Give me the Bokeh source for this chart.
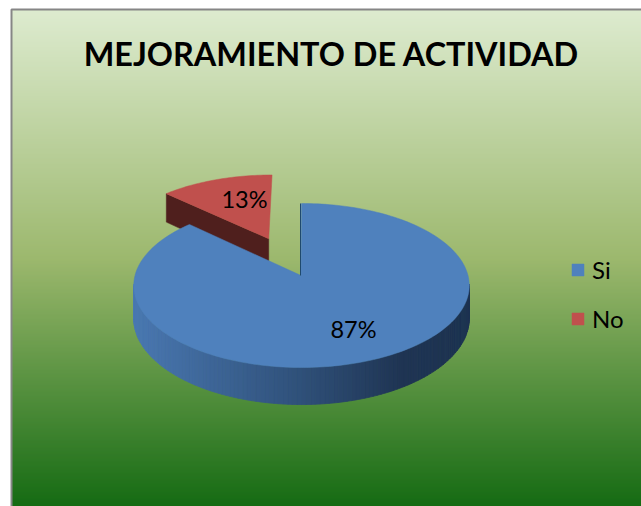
import numpy as np
from bokeh.plotting import figure
from bokeh.models import Range1d, Legend, LegendItem
from bokeh.core.properties import value
from bokeh.embed import file_html
from bokeh.resources import INLINE

# --- data ---
title_text = "MEJORAMIENTO DE ACTIVIDAD"
categories = ["Si", "No"]
percents = [87, 13]
label_x = [353, 244]
label_y = [328.5, 198.5]

# --- styles ---
blue, red, red_dark = "#4f81bd", "#c0504d", "#4f1f1d"
bg_stops = [(0.0, "#ddebcf"), (0.5, "#9cb86e"), (1.0, "#156b13")]
wall_stops = [(0.0, "#4a78b2"), (0.5, "#2f5079"), (0.8, "#1f3453"), (1.0, "#1d3352")]
FONT = value("Lato")


def rgb(h):
    return np.array([int(h[i:i + 2], 16) for i in (1, 3, 5)], float)


def ramp(t, stops):
    for (t0, c0), (t1, c1) in zip(stops, stops[1:]):
        if t <= t1:
            c = rgb(c0) + (rgb(c1) - rgb(c0)) * (t - t0) / (t1 - t0)
            return "#%02x%02x%02x" % tuple(int(round(x)) for x in c)
    return stops[-1][1]


# perspective projection of the pie disc
X0, Y0, A, B, K, DEPTH = 301.0, 275.0, 166.5, 80.8, 0.122, 32.5


def project(u, v, down=0.0):
    d = 1 + K * v
    return X0 + A * u / d, Y0 - B * v / d + down * DEPTH / d


def disc(theta, off=(0.0, 0.0), radius=1.0):
    return off[0] + radius * np.sin(theta), off[1] + radius * np.cos(theta)


p = figure(width=641, height=506, x_range=Range1d(0, 641), y_range=Range1d(506, 0),
           output_backend="svg", toolbar_location=None, min_border=0,
           outline_line_color=None, background_fill_color="white", border_fill_color="white")
p.axis.visible = False
p.grid.visible = False

# chart area: gradient rows and border
L, T, R, Bm = 11, 9, 641, 506
rows = np.arange(T, Bm)
p.quad(left=L, right=R, top=rows, bottom=rows + 3, line_color=None,
       fill_color=[ramp((r - T) / (Bm - T), bg_stops) for r in rows])
p.line([L, L, R], [Bm, T, T], line_color="#868686", line_width=2)

# slices: the No slice is exploded along its bisector, Si stays at the centre
sweep_no = 2 * np.pi * percents[1] / sum(percents)
mid = -sweep_no / 2
explode = 0.525
radius_no = 0.985
off = (explode * np.sin(mid), explode * np.cos(mid))

# No: inner wall and top
cu, cv = disc(-sweep_no, off, radius_no)
ax0, ay0 = project(off[0], off[1])
ax1, ay1 = project(off[0], off[1], 1)
bx0, by0 = project(cu, cv)
bx1, by1 = project(cu, cv, 1)
p.patch([ax0, bx0, bx1, ax1], [ay0, by0, by1, ay1], fill_color=red_dark, line_color=red_dark, line_width=0.5)
th = np.linspace(-sweep_no, 0, 40)
u, v = disc(th, off, radius_no)
x, y = project(u, v)
r_no = p.patch(np.r_[ax0, x], np.r_[ay0, y], fill_color=red, line_color=red, line_width=0.5)

# Si: outer wall, as shaded strips
edges = np.radians(np.linspace(96, 264, 121))
u, v = disc(edges)
xt, yt = project(u, v)
xb, yb = project(u, v, 1)
xs, ys, cols = [], [], []
xmin, xmax = xt.min(), xt.max()
for i in range(len(edges) - 1):
    xs.append([xt[i], xt[i + 1], xb[i + 1], xb[i]])
    ys.append([yt[i], yt[i + 1], yb[i + 1], yb[i]])
    cols.append(ramp((0.5 * (xt[i] + xt[i + 1]) - xmin) / (xmax - xmin), wall_stops))
p.patches(xs, ys, fill_color=cols, line_color=cols, line_width=0.8)

# Si: top
th = np.linspace(0, 2 * np.pi - sweep_no, 200)
u, v = disc(th)
x, y = project(u, v)
r_si = p.patch(np.r_[X0 - 0.5, x], np.r_[Y0, y], fill_color=blue, line_color=blue, line_width=0.5)
ex, ey = project(np.array([0.0, 0.0]), np.array([0.0, 1.0]))
p.line(ex - 1, ey, line_color="#1f4a6e", line_width=1)

# value labels
p.text(label_x, label_y, text=[f"{v}%" for v in percents], text_font=FONT, text_font_size="23.5px",
       text_color="black", text_align="center", text_baseline="middle")

# title
p.text([331], [52.5], text=[title_text], text_font=FONT, text_font_style="bold", text_font_size="32.4px",
       text_color="black", text_align="center", text_baseline="middle")

legend = Legend(items=[LegendItem(label=categories[0], renderers=[r_si]),
                       LegendItem(label=categories[1], renderers=[r_no])],
                location=(570, 173), orientation="vertical", background_fill_alpha=0, border_line_color=None,
                margin=0, padding=0, glyph_width=15, glyph_height=15, label_text_font="Lato",
                label_text_font_size="24px", label_text_color="black", spacing=20, label_standoff=7)
p.add_layout(legend, "center")

open("out.html", "w").write(file_html(p, INLINE))
